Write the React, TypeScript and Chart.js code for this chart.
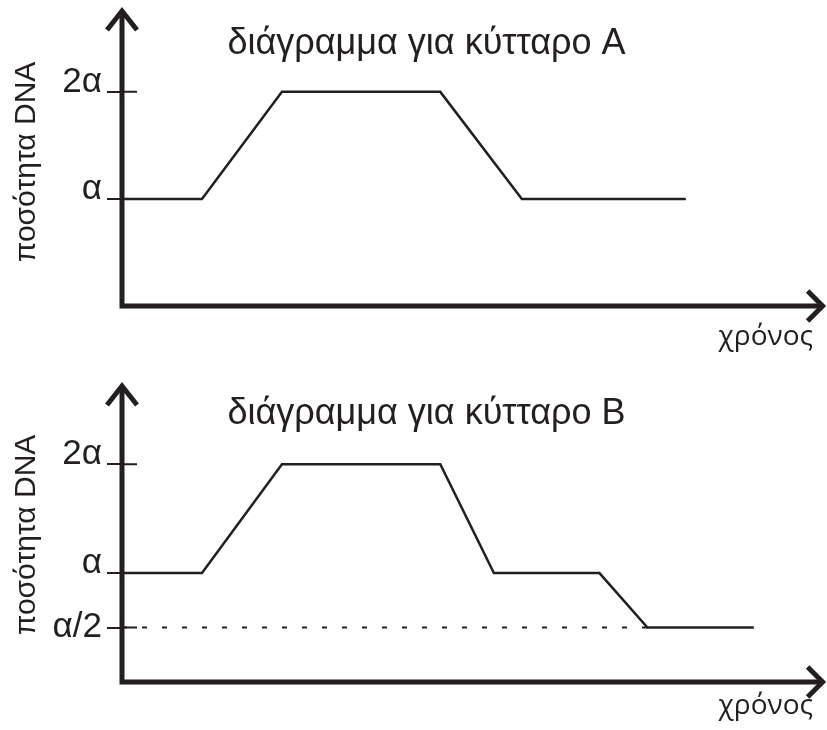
import React, { useEffect, useRef } from 'react';
import { Chart, registerables } from 'chart.js';

Chart.register(...registerables);

// ---------- data ----------
const TITLE_A = 'διάγραμμα για κύτταρο Α';
const TITLE_B = 'διάγραμμα για κύτταρο Β';
const Y_TITLE = 'ποσότητα DNA';
const X_TITLE = 'χρόνος';

const TIME_A = [0, 1, 2, 3.98, 5, 7.05];
const DNA_A = [1, 1, 2, 2, 1, 1];

const TIME_B = [0, 1, 2, 3.98, 4.65, 5.97, 6.57, 7.9];
const DNA_B = [1, 1, 2, 2, 1, 1, 0.5, 0.5];

const HALF_LINE_TIME = [0, 6.57];
const HALF_LINE_DNA = [0.5, 0.5];

const TICKS_A = [1, 2];
const TICK_LABELS_A = ['α', '2α'];
const TICKS_B = [0.5, 1, 2];
const TICK_LABELS_B = ['α/2', 'α', '2α'];
const RAISED_TICKS = [1, 2];

const X_MAX = 8.64;

// ---------- style ----------
const INK = '#231f20';
const SANS = '"Liberation Sans", Arial, sans-serif';

const axisArrows = {
  id: 'axisArrows',
  afterDraw(chart: any, _args: any, opts: any) {
    const { ctx, scales } = chart;
    const x = scales.x;
    const y = scales.y;
    const L = x.getPixelForValue(0);
    const B = y.getPixelForValue(0);
    const yTip = y.getPixelForValue(opts.yArrow);
    const xTip = x.getPixelForValue(opts.xArrow);
    ctx.save();
    ctx.strokeStyle = INK;
    ctx.lineCap = 'butt';
    ctx.lineJoin = 'miter';
    ctx.lineWidth = 5;
    ctx.beginPath();
    ctx.moveTo(L, B + 2.5);
    ctx.lineTo(L, yTip);
    ctx.moveTo(L - 2.5, B);
    ctx.lineTo(xTip, B);
    ctx.stroke();
    ctx.beginPath();
    ctx.moveTo(L - 15, yTip + 19);
    ctx.lineTo(L, yTip);
    ctx.lineTo(L + 15, yTip + 19);
    ctx.moveTo(xTip - 15, B - 15);
    ctx.lineTo(xTip, B);
    ctx.lineTo(xTip - 15, B + 15);
    ctx.stroke();
    ctx.lineWidth = 2;
    ctx.beginPath();
    y.ticks.forEach((t: any) => {
      const py = y.getPixelForValue(t.value);
      ctx.moveTo(L, py);
      ctx.lineTo(L + 15, py);
    });
    ctx.stroke();
    ctx.restore();
  },
};

function toPoints(xs: number[], ys: number[]) {
  return xs.map((v, i) => ({ x: v, y: ys[i] }));
}

interface Props {
  title: string;
  times: number[];
  values: number[];
  ticks: number[];
  tickLabels: string[];
  withHalf: boolean;
  yMax: number;
  yArrow: number;
  titlePadTop: number;
  titlePadBottom: number;
  xAxisHeight: number;
  xTitlePadBottom: number;
}

function DnaChart(p: Props) {
  const ref = useRef<HTMLCanvasElement | null>(null);
  useEffect(() => {
    if (!ref.current) return;
    const datasets: any[] = [
      {
        data: toPoints(p.times, p.values),
        borderColor: INK,
        borderWidth: 2.5,
        pointRadius: 0,
        fill: false,
        tension: 0,
        borderJoinStyle: 'miter',
      },
    ];
    if (p.withHalf) {
      datasets.push({
        data: toPoints(HALF_LINE_TIME, HALF_LINE_DNA),
        borderColor: INK,
        borderWidth: 2,
        borderDash: [5, 15],
        borderCapStyle: 'butt',
        pointRadius: 0,
        fill: false,
        tension: 0,
      });
    }
    const chart = new Chart(ref.current, {
      type: 'line',
      data: { datasets },
      plugins: [axisArrows],
      options: {
        animation: false,
        responsive: false,
        events: [],
        layout: { padding: { left: 40, right: 14, top: 0, bottom: 0 } },
        plugins: {
          legend: { display: false },
          tooltip: { enabled: false },
          title: {
            display: true,
            text: p.title,
            color: INK,
            font: { family: SANS, size: 36, weight: 'normal', lineHeight: 1.2 },
            padding: { top: p.titlePadTop, bottom: p.titlePadBottom },
          },
          axisArrows: { yArrow: p.yArrow, xArrow: 8.76 },
        } as any,
        scales: {
          x: {
            type: 'linear',
            min: 0,
            max: X_MAX,
            afterFit: (s: any) => {
              s.height = p.xAxisHeight;
              s.paddingLeft = 0;
              s.paddingRight = 0;
            },
            border: { display: false },
            grid: { display: false },
            ticks: { display: false },
            title: {
              display: true,
              text: X_TITLE,
              align: 'end',
              color: INK,
              font: { family: '"Open Sans", sans-serif', size: 28, lineHeight: 1.2 },
              padding: { top: 0, bottom: p.xTitlePadBottom },
            },
          },
          y: {
            type: 'linear',
            min: 0,
            max: p.yMax,
            afterBuildTicks: (s: any) => {
              s.ticks = p.ticks.map((v) => ({ value: v }));
            },
            afterFit: (s: any) => {
              s.width = 82;
              s.paddingTop = 0;
              s.paddingBottom = 0;
            },
            border: { display: false },
            grid: {
              display: true,
              drawOnChartArea: false,
              drawTicks: true,
              tickLength: 15,
              color: INK,
              lineWidth: 2,
            },
            ticks: {
              padding: 5,
              color: INK,
              font: { family: SANS, size: 35, lineHeight: '19px' },
              callback: (value: any) => {
                const i = p.ticks.indexOf(Number(value));
                const lbl = i >= 0 ? p.tickLabels[i] : '';
                return RAISED_TICKS.includes(Number(value)) ? [lbl, ''] : lbl;
              },
            },
            title: {
              display: true,
              text: Y_TITLE,
              color: INK,
              font: { family: SANS, size: 30, lineHeight: 1.2 },
              padding: { top: -31, bottom: 0 },
            },
          },
        },
      } as any,
    });
    return () => chart.destroy();
  }, []);
  return <canvas ref={ref} width={827} height={365} style={{ display: 'block', width: 827, height: 365 }} />;
}

export default function App() {
  return (
    <div style={{ position: 'absolute', left: 0, top: 0, width: 827, height: 730, background: '#fff' }}>
      <DnaChart
        title={TITLE_A}
        times={TIME_A}
        values={DNA_A}
        ticks={TICKS_A}
        tickLabels={TICK_LABELS_A}
        withHalf={false}
        yMax={2.69}
        yArrow={2.755}
        titlePadTop={22.4}
        titlePadBottom={-47.6}
        xAxisHeight={59}
        xTitlePadBottom={11.4}
      />
      <DnaChart
        title={TITLE_B}
        times={TIME_B}
        values={DNA_B}
        ticks={TICKS_B}
        tickLabels={TICK_LABELS_B}
        withHalf={true}
        yMax={2.7}
        yArrow={2.718}
        titlePadTop={27.4}
        titlePadBottom={-47.6}
        xAxisHeight={48}
        xTitlePadBottom={7.4}
      />
    </div>
  );
}
